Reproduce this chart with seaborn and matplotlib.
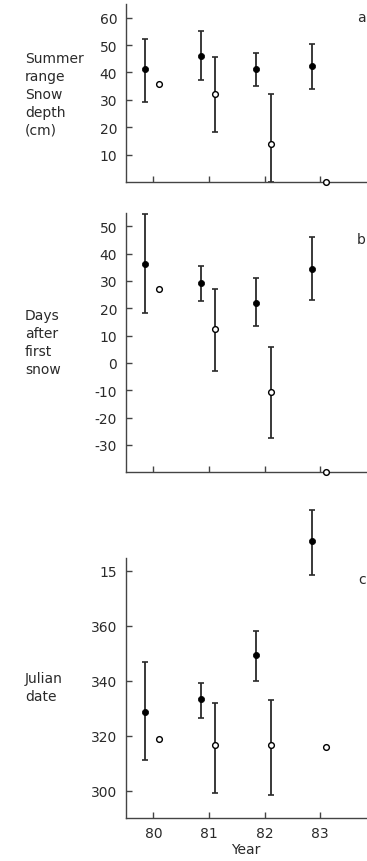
import matplotlib
matplotlib.use("Agg")
import matplotlib.pyplot as plt
import seaborn as sns
import numpy as np
import pandas as pd

years = [80, 81, 82, 83]

# Panel a: summer range snow depth (cm)
depth_filled = [41.4, 46.0, 41.2, 42.3]
depth_filled_lo = [29.3, 37.1, 34.9, 34.1]
depth_filled_hi = [52.3, 55.0, 47.2, 50.5]
depth_open = [35.9, 32.1, 13.7, 0.0]
depth_open_lo = [np.nan, 18.1, 0.0, np.nan]
depth_open_hi = [np.nan, 45.5, 32.2, np.nan]

# Panel b: days after first snow
days_filled = [36.3, 29.2, 22.0, 34.3]
days_filled_lo = [18.1, 22.8, 13.4, 23.1]
days_filled_hi = [54.3, 35.3, 31.1, 46.0]
days_open = [26.9, 12.4, -10.5, -40.0]
days_open_lo = [np.nan, -2.9, -27.6, np.nan]
days_open_hi = [np.nan, 26.9, 6.0, np.nan]

# Panel c: Julian date (values past 365 continue into next year)
jul_filled = [328.7, 333.2, 349.2, 390.9]
jul_filled_lo = [311.2, 326.5, 340.0, 378.5]
jul_filled_hi = [346.8, 339.3, 357.9, 402.0]
jul_open = [318.9, 316.5, 316.4, 316.0]
jul_open_lo = [np.nan, 299.2, 298.4, np.nan]
jul_open_hi = [np.nan, 331.8, 332.8, np.nan]

depth_ticks = [10, 20, 30, 40, 50, 60]
days_ticks = [-30, -20, -10, 0, 10, 20, 30, 40, 50]
jul_ticks = [300, 320, 340, 360, 380]
jul_ticklabels = ["300", "320", "340", "360", "15"]
year_labels = ["80", "81", "82", "83"]

ylabels = ["Summer\nrange\nSnow\ndepth\n(cm)", "Days\nafter\nfirst\nsnow", "Julian\ndate"]
panel_letters = ["a", "b", "c"]

sns.set_theme(style="ticks")
plt.rcParams["font.family"] = ["DejaVu Sans"]

W, H = 367, 862
fig = plt.figure(figsize=(W / 100, H / 100), dpi=100)

def fx(px):
    return px / W

def fy(py):
    return 1 - py / H

# (top_px, bottom_px, ylim)
layout = [
    (5, 183, (0, 65)),
    (213.5, 473.3, (-40, 55)),
    (559.3, 819, (290, 384.5)),
]
left_px = 125.5
xlim = (79.5, 83.84)
off_f, off_o = -0.15, 0.11

panels = [
    (depth_filled, depth_filled_lo, depth_filled_hi, depth_open, depth_open_lo, depth_open_hi, depth_ticks, [str(t) for t in depth_ticks]),
    (days_filled, days_filled_lo, days_filled_hi, days_open, days_open_lo, days_open_hi, days_ticks, [str(t) for t in days_ticks]),
    (jul_filled, jul_filled_lo, jul_filled_hi, jul_open, jul_open_lo, jul_open_hi, jul_ticks, jul_ticklabels),
]

label_centers = [95, 343, 688]
letter_y = [18, 240, 580]
col = "#2a2a2a"

for i, (lay, pan) in enumerate(zip(layout, panels)):
    top, bot, ylim = lay
    ff, flo, fhi, oo, olo, ohi, ticks, ticklabels = pan
    ax = fig.add_axes([fx(left_px), fy(bot), 1 - fx(left_px), (bot - top) / H])
    xf = np.array(years) + off_f
    xo = np.array(years) + off_o
    ff = np.array(ff); flo = np.array(flo); fhi = np.array(fhi)
    oo = np.array(oo); olo = np.array(olo); ohi = np.array(ohi)
    ax.errorbar(xf, ff, yerr=[ff - flo, fhi - ff], fmt="none", ecolor=col,
                elinewidth=1.3, capsize=2.2, capthick=1.2, clip_on=False)
    m = ~np.isnan(olo)
    ax.errorbar(xo[m], oo[m], yerr=[oo[m] - olo[m], ohi[m] - oo[m]], fmt="none",
                ecolor=col, elinewidth=1.3, capsize=2.2, capthick=1.2, clip_on=False)
    dff = pd.DataFrame({"x": xf, "y": ff})
    dfo = pd.DataFrame({"x": xo, "y": oo})
    sns.scatterplot(data=dff, x="x", y="y", ax=ax, color="black", s=20,
                    edgecolor="black", linewidth=0.5, zorder=5, clip_on=False)
    sns.scatterplot(data=dfo, x="x", y="y", ax=ax, color="white", s=17,
                    edgecolor="black", linewidth=1.0, zorder=5, clip_on=False)
    ax.set_xlim(*xlim)
    ax.set_ylim(*ylim)
    ax.set_yticks(ticks)
    ax.set_yticklabels(ticklabels)
    ax.set_xticks(years)
    if i == 2:
        ax.set_xticklabels(year_labels)
        ax.set_xlabel("Year", fontsize=10, labelpad=1, color=col)
    else:
        ax.set_xticklabels([])
        ax.set_xlabel("")
    ax.set_ylabel("")
    for s in ["top", "right"]:
        ax.spines[s].set_visible(False)
    for s in ["left", "bottom"]:
        ax.spines[s].set_linewidth(1.0)
        ax.spines[s].set_color("#444444")
    ax.tick_params(axis="both", direction="in", length=4, width=1.0,
                   colors="#444444", labelcolor=col, labelsize=10)
    ax.tick_params(axis="y", pad=6)
    ax.tick_params(axis="x", pad=6)
    ax.patch.set_alpha(0)
    fig.text(fx(25), fy(label_centers[i]), ylabels[i], ha="left", va="center",
             fontsize=10, linespacing=1.35, color=col)
    fig.text(fx(366), fy(letter_y[i]), panel_letters[i], ha="right", va="center",
             fontsize=10, color=col)

fig.savefig("out.png", dpi=100)
